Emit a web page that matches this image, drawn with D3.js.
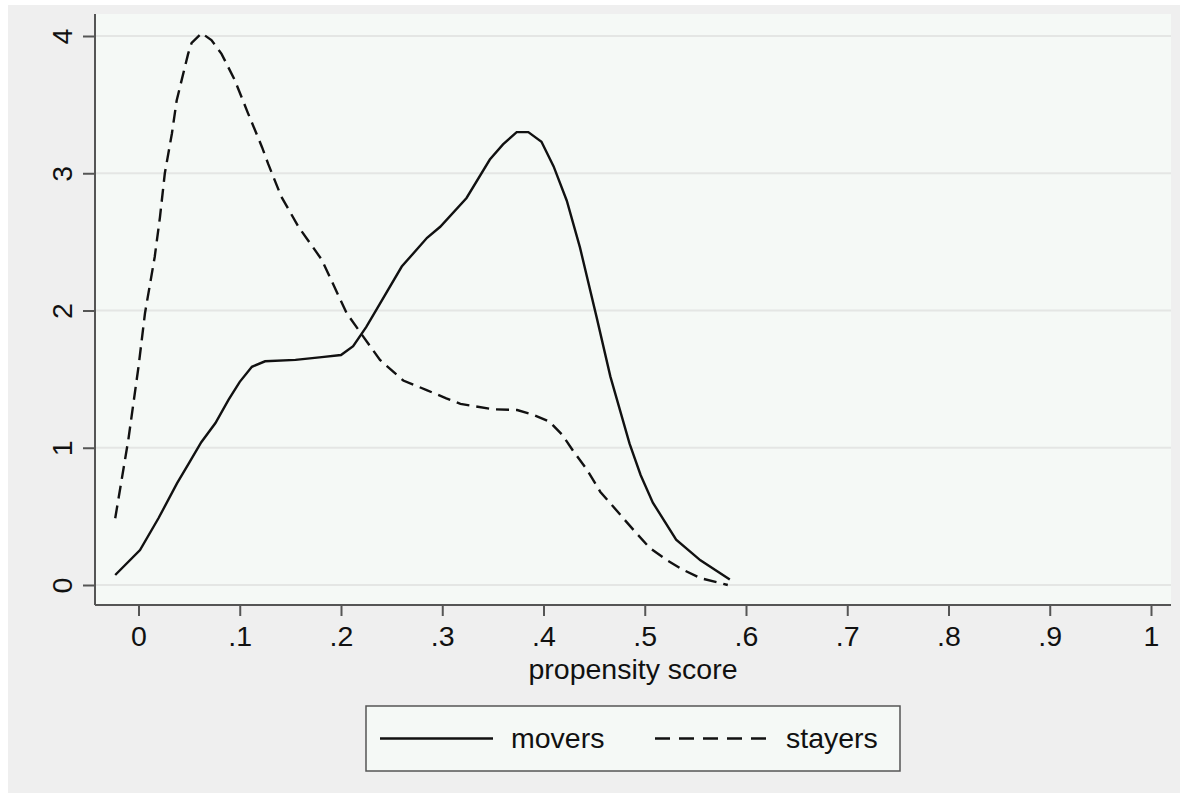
<!DOCTYPE html>
<html>
<head>
<meta charset="utf-8">
<script src="https://cdn.jsdelivr.net/npm/d3@7"></script>
<style>
  html, body { margin: 0; padding: 0; background: #ffffff; }
  svg text { font-family: "Liberation Sans", Arial, Helvetica, sans-serif; fill: #111; }
</style>
</head>
<body>
<svg id="chart" width="1180" height="794"></svg>
<script>
// ---- data ----
const xTicks = [0, 0.1, 0.2, 0.3, 0.4, 0.5, 0.6, 0.7, 0.8, 0.9, 1];
const xTickLabels = ["0", ".1", ".2", ".3", ".4", ".5", ".6", ".7", ".8", ".9", "1"];
const yTicks = [0, 1, 2, 3, 4];
const yTickLabels = ["0", "1", "2", "3", "4"];

const moversX = [-0.023, 0.0015, 0.020, 0.038, 0.050, 0.062, 0.076, 0.089, 0.100, 0.112, 0.125, 0.155, 0.181, 0.200, 0.212, 0.225, 0.2385, 0.260, 0.285, 0.298, 0.324, 0.347, 0.360, 0.3735, 0.385, 0.398, 0.410, 0.423, 0.436, 0.4525, 0.466, 0.485, 0.496, 0.508, 0.531, 0.555, 0.584];
const moversY = [0.073, 0.255, 0.49, 0.74, 0.89, 1.04, 1.18, 1.35, 1.48, 1.59, 1.63, 1.64, 1.66, 1.676, 1.74, 1.88, 2.05, 2.32, 2.53, 2.61, 2.82, 3.10, 3.21, 3.30, 3.30, 3.23, 3.05, 2.80, 2.46, 1.95, 1.52, 1.03, 0.80, 0.60, 0.33, 0.18, 0.04];

const stayersX = [-0.023, -0.010, 0.000, 0.0064, 0.016, 0.0212, 0.026, 0.033, 0.0377, 0.049, 0.0525, 0.0624, 0.072, 0.082, 0.095, 0.108, 0.122, 0.128, 0.141, 0.158, 0.181, 0.2056, 0.222, 0.2385, 0.2615, 0.2846, 0.304, 0.318, 0.350, 0.374, 0.390, 0.406, 0.419, 0.429, 0.443, 0.456, 0.469, 0.489, 0.505, 0.522, 0.538, 0.555, 0.582];
const stayersY = [0.486, 1.06, 1.59, 1.98, 2.39, 2.68, 3.0, 3.29, 3.53, 3.87, 3.95, 4.02, 3.97, 3.87, 3.68, 3.44, 3.19, 3.07, 2.83, 2.61, 2.37, 1.98, 1.81, 1.64, 1.49, 1.42, 1.36, 1.32, 1.28, 1.275, 1.24, 1.19, 1.09, 0.98, 0.84, 0.68, 0.57, 0.40, 0.27, 0.18, 0.11, 0.05, 0.0];

const seriesNames = ["movers", "stayers"];
const xTitle = "propensity score";

// ---- layout ----
const svg = d3.select("#chart");
const W = 1180, H = 794;
const plot = { left: 95, right: 1171, top: 14, bottom: 605 };
const FS = 28.5;

// outer background
svg.append("rect").attr("x", 8).attr("y", 5).attr("width", W - 8).attr("height", 788).attr("fill", "#efefef");
// plot region
svg.append("rect").attr("x", plot.left).attr("y", plot.top)
  .attr("width", plot.right - plot.left).attr("height", plot.bottom - plot.top)
  .attr("fill", "#f5f9f6");

const x = d3.scaleLinear().domain([0, 1]).range([138.5, 1151]);
const y = d3.scaleLinear().domain([0, 4]).range([585, 36]);

// gridlines
svg.append("g").selectAll("line").data(yTicks).join("line")
  .attr("x1", plot.left).attr("x2", plot.right)
  .attr("y1", d => y(d)).attr("y2", d => y(d))
  .attr("stroke", "#e4e6e4").attr("stroke-width", 2);

// curves
const line = d3.line().x(d => x(d[0])).y(d => y(d[1]));
const movers = moversX.map((v, i) => [v, moversY[i]]);
const stayers = stayersX.map((v, i) => [v, stayersY[i]]);

svg.append("path").datum(stayers).attr("d", line)
  .attr("fill", "none").attr("stroke", "#111").attr("stroke-width", 2.4)
  .attr("stroke-dasharray", "13,7");
svg.append("path").datum(movers).attr("d", line)
  .attr("fill", "none").attr("stroke", "#111").attr("stroke-width", 2.4);

// axes
const axisColor = "#555";
const xAxis = d3.axisBottom(x).tickValues(xTicks).tickSize(11).tickFormat((d, i) => xTickLabels[i]);
const gx = svg.append("g").attr("transform", `translate(0,${plot.bottom})`).call(xAxis);
gx.select(".domain").remove();
gx.selectAll(".tick line").attr("stroke", axisColor).attr("stroke-width", 2);
gx.selectAll(".tick text").attr("font-size", FS).attr("fill", "#111").attr("dy", null).attr("y", 41)
  .attr("font-family", '"Liberation Sans", Arial, sans-serif');
svg.append("line").attr("x1", plot.left).attr("x2", plot.right)
  .attr("y1", plot.bottom).attr("y2", plot.bottom).attr("stroke", axisColor).attr("stroke-width", 2);

const yAxis = d3.axisLeft(y).tickValues(yTicks).tickSize(12).tickFormat((d, i) => yTickLabels[i]);
const gy = svg.append("g").attr("transform", `translate(${plot.left},0)`).call(yAxis);
gy.select(".domain").remove();
gy.selectAll(".tick line").attr("stroke", axisColor).attr("stroke-width", 2);
gy.selectAll(".tick text").attr("font-size", FS).attr("fill", "#111")
  .attr("x", null).attr("dy", null).attr("text-anchor", "middle")
  .attr("transform", "translate(-23,0) rotate(-90)")
  .attr("font-family", '"Liberation Sans", Arial, sans-serif');
svg.append("line").attr("x1", plot.left).attr("x2", plot.left)
  .attr("y1", plot.top).attr("y2", plot.bottom).attr("stroke", axisColor).attr("stroke-width", 2);

// x title
svg.append("text").attr("x", (plot.left + plot.right) / 2).attr("y", 679)
  .attr("text-anchor", "middle").attr("font-size", FS).text(xTitle);

// legend
const lg = svg.append("g");
lg.append("rect").attr("x", 366).attr("y", 706).attr("width", 534).attr("height", 65)
  .attr("fill", "#f5f9f6").attr("stroke", "#555").attr("stroke-width", 1.5);
lg.append("line").attr("x1", 380).attr("x2", 493).attr("y1", 738.5).attr("y2", 738.5)
  .attr("stroke", "#111").attr("stroke-width", 2.5);
lg.append("text").attr("x", 511).attr("y", 748).attr("font-size", FS).text(seriesNames[0]);
lg.append("line").attr("x1", 655).attr("x2", 768).attr("y1", 738.5).attr("y2", 738.5)
  .attr("stroke", "#111").attr("stroke-width", 2.5).attr("stroke-dasharray", "15,9");
lg.append("text").attr("x", 786).attr("y", 748).attr("font-size", FS).text(seriesNames[1]);
</script>
</body>
</html>
